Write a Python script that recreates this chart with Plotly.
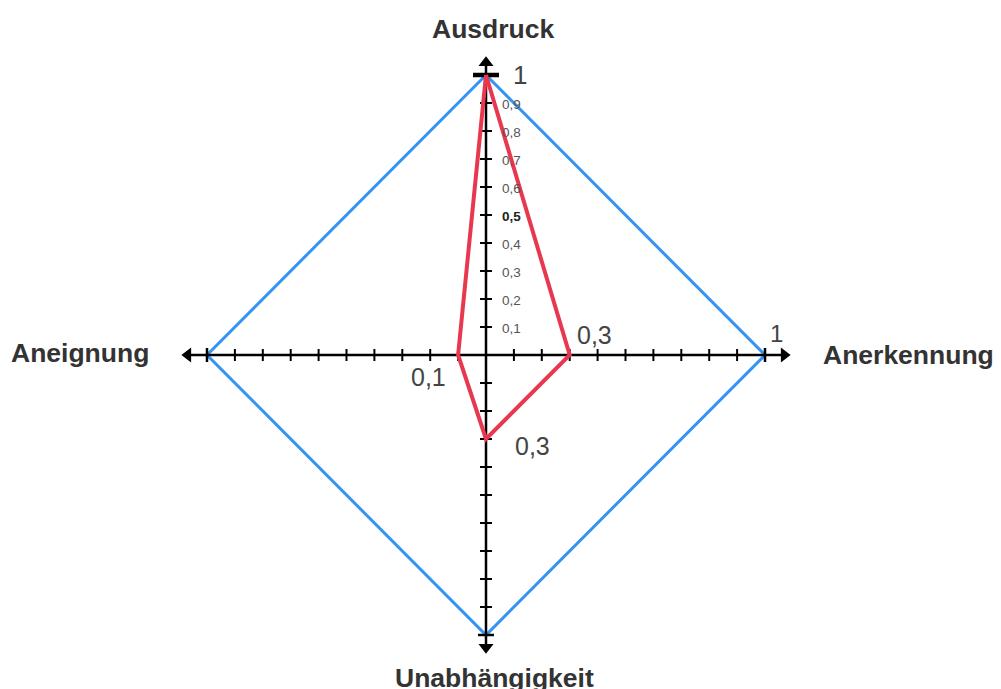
import plotly.graph_objects as go

# ---- data ----
axes_names = ["Ausdruck", "Anerkennung", "Unabhängigkeit", "Aneignung"]
max_values = [1, 1, 1, 1]
values = [1, 0.3, 0.3, 0.1]
value_labels = ["1", "0,3", "0,3", "0,1"]
tick_values = [0.1, 0.2, 0.3, 0.4, 0.5, 0.6, 0.7, 0.8, 0.9]
tick_labels = ["0,1", "0,2", "0,3", "0,4", "0,5", "0,6", "0,7", "0,8", "0,9"]

# ---- layout constants (pixels) ----
PAGE_OFF = 8               # default body margin of the html page
W, H = 1001 - PAGE_OFF, 689 - PAGE_OFF
CX, CY = 486 - PAGE_OFF, 355 - PAGE_OFF   # centre in figure pixels
SX, SY = 279.0, 280.0      # pixels per unit
AX_EXT_X, AX_EXT_Y = 1.09, 1.065

BLUE = "#3394f4"
RED = "#e8384f"
BLACK = "#000000"

dx = 1.0 / SX
dy = 1.0 / SY

# direction vectors for the four axes: up, right, down, left
dirs = [(0, 1), (1, 0), (0, -1), (-1, 0)]


def poly(vals):
    xs = [d[0] * v for d, v in zip(dirs, vals)]
    ys = [d[1] * v for d, v in zip(dirs, vals)]
    return xs + xs[:1], ys + ys[:1]


fig = go.Figure()

# blue outline (max)
bx, by = poly(max_values)
fig.add_trace(go.Scatter(x=bx, y=by, mode="lines", line=dict(color=BLUE, width=3),
                         hoverinfo="skip", showlegend=False))

# axis lines
fig.add_trace(go.Scatter(x=[-AX_EXT_X + 6 * dx, AX_EXT_X - 6 * dx], y=[0, 0], mode="lines",
                         line=dict(color=BLACK, width=2.5), hoverinfo="skip", showlegend=False))
fig.add_trace(go.Scatter(x=[0, 0], y=[-AX_EXT_Y + 6 * dy, AX_EXT_Y - 6 * dy], mode="lines",
                         line=dict(color=BLACK, width=2.5), hoverinfo="skip", showlegend=False))

# arrow heads
fig.add_trace(go.Scatter(
    x=[AX_EXT_X - 6 * dx, -AX_EXT_X + 6 * dx, 0, 0],
    y=[0, 0, AX_EXT_Y - 6 * dy, -AX_EXT_Y + 6 * dy],
    mode="markers",
    marker=dict(symbol=["triangle-right", "triangle-left", "triangle-up", "triangle-down"],
                size=13, color=BLACK, line=dict(width=0)),
    hoverinfo="skip", showlegend=False))

# regular tick marks
tx, ty = [], []
for t in tick_values:
    for s in (1, -1):
        tx += [s * t, s * t, None]
        ty += [-6 * dy, 6 * dy, None]
        tx += [-6 * dx, 6 * dx, None]
        ty += [s * t, s * t, None]
fig.add_trace(go.Scatter(x=tx, y=ty, mode="lines", line=dict(color=BLACK, width=2),
                         hoverinfo="skip", showlegend=False))

# end ticks at 1
ex = [1, 1, None, -1, -1, None, -8 * dx, 8 * dx, None]
ey = [-7 * dy, 7 * dy, None, -7 * dy, 7 * dy, None, -1, -1, None]
fig.add_trace(go.Scatter(x=ex, y=ey, mode="lines", line=dict(color=BLACK, width=2.5),
                         hoverinfo="skip", showlegend=False))
fig.add_trace(go.Scatter(x=[-13 * dx, 13 * dx], y=[1, 1], mode="lines",
                         line=dict(color=BLACK, width=4.5), hoverinfo="skip", showlegend=False))

# red data polygon
rx, ry = poly(values)
fig.add_trace(go.Scatter(x=rx, y=ry, mode="lines", line=dict(color=RED, width=4),
                         hoverinfo="skip", showlegend=False))

ann = []
FONT = "Liberation Sans, Arial, sans-serif"

# small tick labels on the vertical axis
for t, lab in zip(tick_values, tick_labels):
    bold = lab == "0,5"
    ann.append(dict(x=14 * dx, y=t, text=("<b>%s</b>" % lab) if bold else lab,
                    showarrow=False, xanchor="left", yanchor="middle", yshift=-1,
                    font=dict(family=FONT, size=13.5, color="#222" if bold else "#555")))

# value labels
ann.append(dict(x=0, y=values[0], text=value_labels[0], showarrow=False, xanchor="left",
                yanchor="middle", xshift=25, yshift=0,
                font=dict(family=FONT, size=26, color="#444")))
ann.append(dict(x=values[1], y=0, text=value_labels[1], showarrow=False, xanchor="left",
                yanchor="middle", xshift=5, yshift=20,
                font=dict(family=FONT, size=25, color="#444")))
ann.append(dict(x=0, y=-values[2], text=value_labels[2], showarrow=False, xanchor="left",
                yanchor="middle", xshift=27, yshift=-7,
                font=dict(family=FONT, size=25, color="#444")))
ann.append(dict(x=-values[3], y=0, text=value_labels[3], showarrow=False, xanchor="right",
                yanchor="middle", xshift=-10, yshift=-22,
                font=dict(family=FONT, size=25, color="#444")))
ann.append(dict(x=max_values[1], y=0, text="1", showarrow=False, xanchor="left",
                yanchor="middle", xshift=3, yshift=22,
                font=dict(family=FONT, size=24, color="#444")))

# axis titles
TF = dict(family=FONT, size=26.5, color="#333")
ann.append(dict(x=7 * dx, y=AX_EXT_Y, text="<b>%s</b>" % axes_names[0], showarrow=False,
                xanchor="center", yanchor="middle", yshift=28, font=TF))
ann.append(dict(x=AX_EXT_X, y=0, text="<b>%s</b>" % axes_names[1], showarrow=False,
                xanchor="left", yanchor="middle", xshift=31, yshift=0, font=TF))
ann.append(dict(x=8 * dx, y=-AX_EXT_Y, text="<b>%s</b>" % axes_names[2], showarrow=False,
                xanchor="center", yanchor="middle", yshift=-25, font=TF))
ann.append(dict(x=-AX_EXT_X, y=0, text="<b>%s</b>" % axes_names[3], showarrow=False,
                xanchor="right", yanchor="middle", xshift=-31, yshift=2, font=TF))

fig.update_layout(
    width=W, height=H,
    margin=dict(l=0, r=0, t=0, b=0),
    paper_bgcolor="white", plot_bgcolor="white",
    xaxis=dict(range=[-CX / SX, (W - CX) / SX], visible=False, fixedrange=True),
    yaxis=dict(range=[-(H - CY) / SY, CY / SY], visible=False, fixedrange=True),
    annotations=ann,
    showlegend=False,
)

fig.write_html("out.html")
